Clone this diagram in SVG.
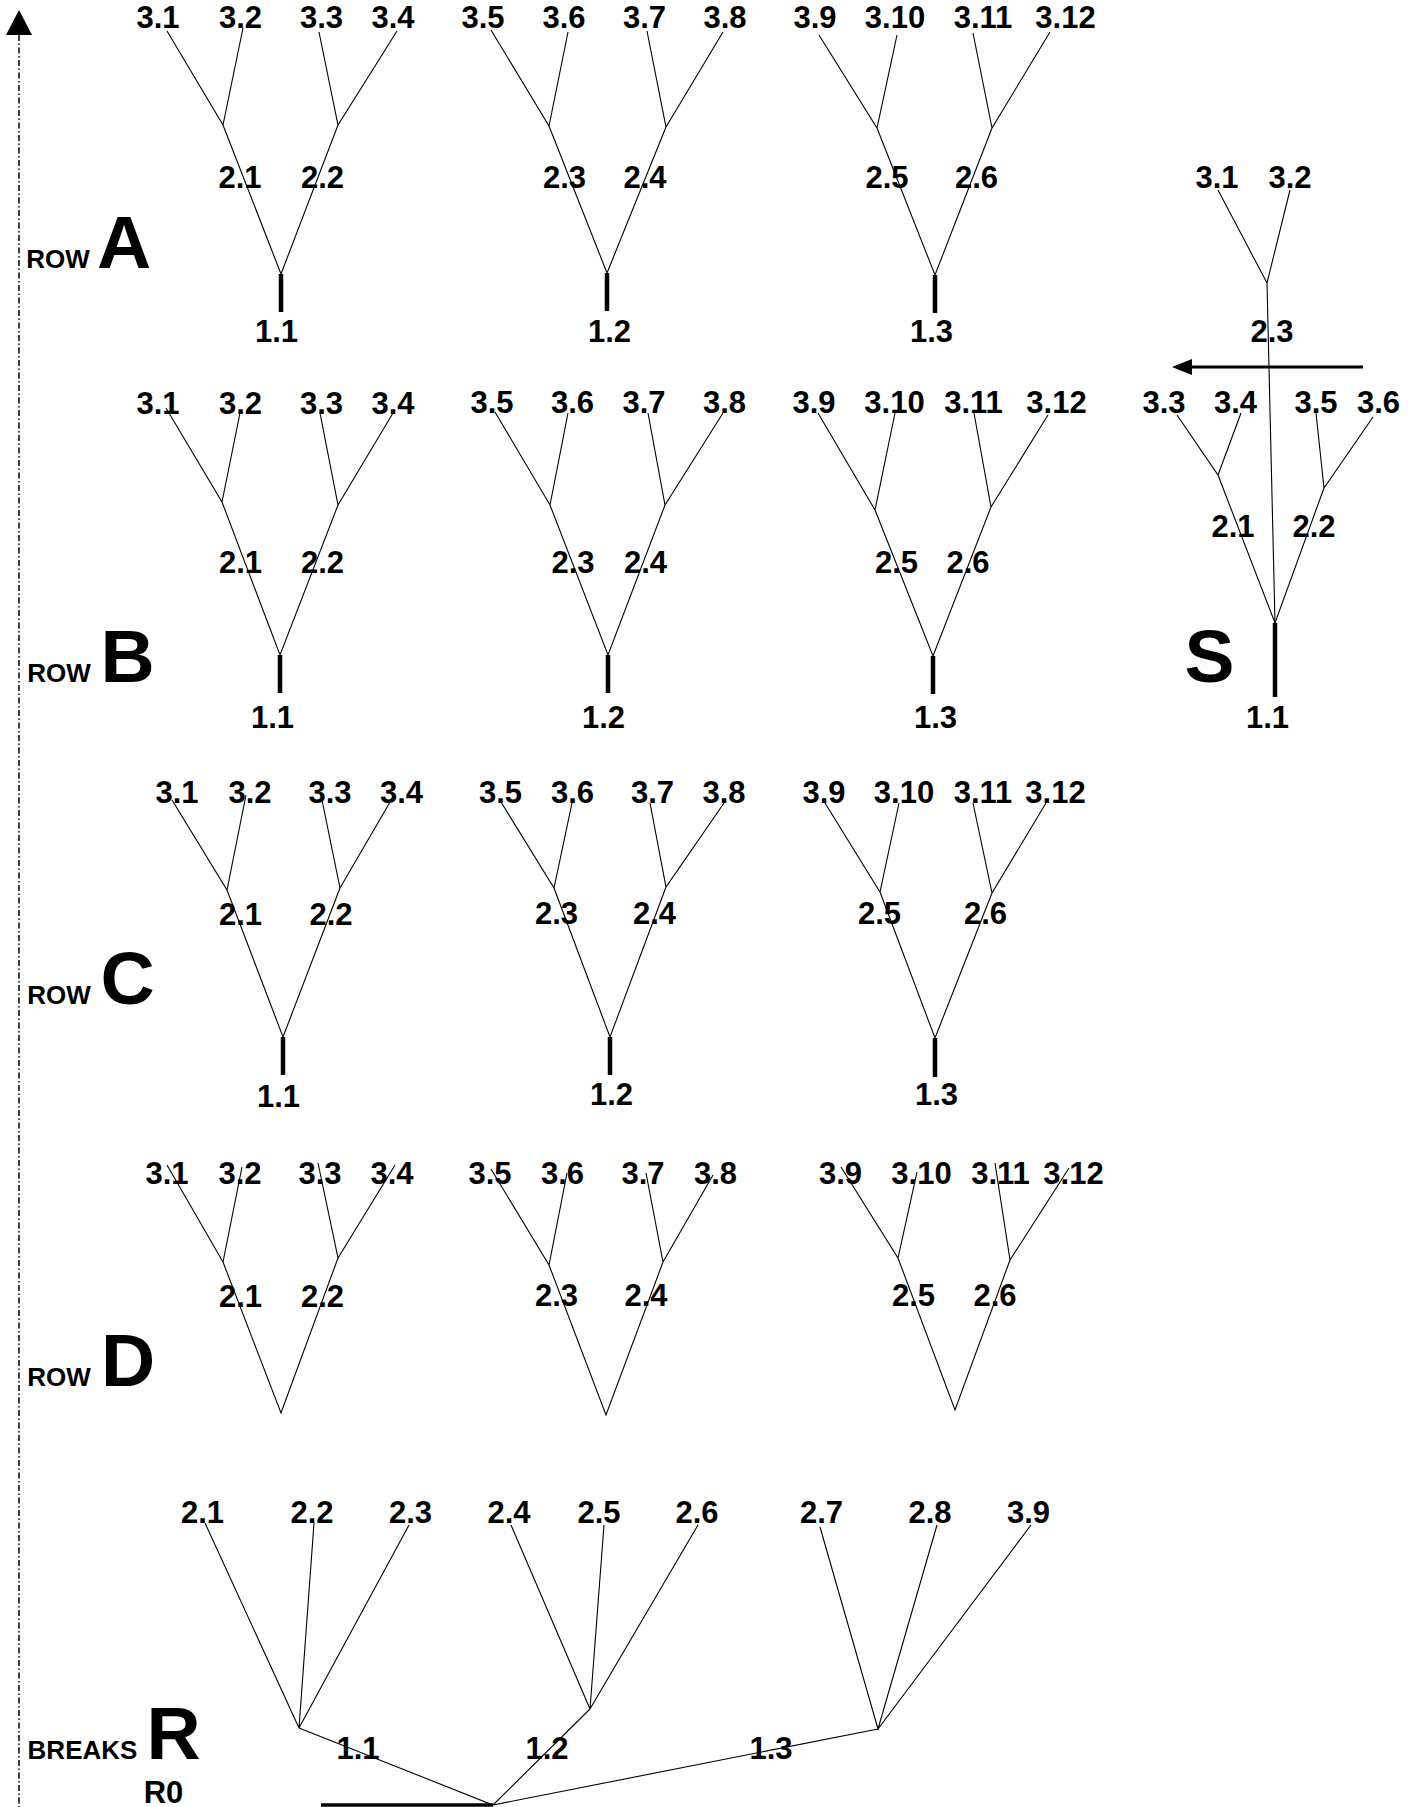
<svg xmlns="http://www.w3.org/2000/svg" width="1423" height="1807" viewBox="0 0 1423 1807">
<style>
text{font-family:"Liberation Sans",Arial,sans-serif;font-weight:bold;fill:#000}
.t{font-size:31px;text-anchor:middle}
.big{font-size:75px;text-anchor:middle}
.row{font-size:26px;text-anchor:middle}
.ln{stroke:#000;stroke-width:1.1;fill:none}
.bar{stroke:#000;stroke-width:4.5;fill:none}
.axis{stroke:#000;stroke-width:1.5;stroke-dasharray:6 2.5 1.5 2.5;fill:none}
</style>
<rect width="1423" height="1807" fill="#fff"/>

<g id="connectors">
<line class="axis" x1="19" y1="35" x2="19" y2="1807"/>
<polygon points="19,10 6,35 32,35" fill="#000"/>
<path class="ln" d="M167,31 L223,125 L243,28 M319,32 L338,125 L397,31 M223,125 L281,274 L338,125"/>
<line class="bar" x1="281" y1="274" x2="281" y2="312"/>
<path class="ln" d="M491,30 L549,126 L568,32 M647,31 L666,127 L723,32 M549,126 L607,273 L666,127"/>
<line class="bar" x1="607" y1="273" x2="607" y2="311"/>
<path class="ln" d="M819,35 L877,128 L897,35 M973,33 L992,128 L1050,32 M877,128 L935,275 L992,128"/>
<line class="bar" x1="935" y1="275" x2="935" y2="313"/>
<path class="ln" d="M1218,190 L1267,283 L1290,190 M1267,283 L1275,623"/>
<path class="ln" d="M1177,415 L1218,475 L1241,413 M1316,413 L1324,488 L1373,417 M1218,475 L1275,623 L1324,488"/>
<line class="bar" x1="1275" y1="623" x2="1275" y2="697"/>
<line x1="1363" y1="367" x2="1190" y2="367" stroke="#000" stroke-width="3"/>
<polygon points="1172,367 1192,359 1192,375" fill="#000"/>
<path class="ln" d="M166,408 L222,502 L240,413 M320,413 L338,505 L393,413 M222,502 L280,655 L338,505"/>
<line class="bar" x1="280" y1="655" x2="280" y2="693"/>
<path class="ln" d="M495,412 L550,505 L568,413 M648,413 L665,505 L723,413 M550,505 L608,655 L665,505"/>
<line class="bar" x1="608" y1="655" x2="608" y2="693"/>
<path class="ln" d="M818,413 L875,510 L895,413 M974,413 L991,507 L1048,415 M875,510 L933,656 L991,507"/>
<line class="bar" x1="933" y1="656" x2="933" y2="694"/>
<path class="ln" d="M172,800 L227,890 L246,795 M322,800 L340,888 L393,797 M227,890 L283,1037 L340,888"/>
<line class="bar" x1="283" y1="1037" x2="283" y2="1075"/>
<path class="ln" d="M501,802 L554,888 L572,803 M650,803 L666,887 L724,803 M554,888 L610,1037 L666,887"/>
<line class="bar" x1="610" y1="1037" x2="610" y2="1075"/>
<path class="ln" d="M825,803 L880,892 L899,803 M973,803 L992,893 L1046,803 M880,892 L935,1038 L992,893"/>
<line class="bar" x1="935" y1="1038" x2="935" y2="1077"/>
<path class="ln" d="M167,1165 L223,1262 L242,1167 M318,1163 L338,1258 L395,1165 M223,1262 L281,1413 L338,1258"/>
<path class="ln" d="M491,1169 L549,1265 L567,1173 M646,1173 L663,1262 L713,1175 M549,1265 L606,1415 L663,1262"/>
<path class="ln" d="M841,1167 L898,1258 L917,1172 M995,1163 L1010,1260 L1069,1168 M898,1258 L955,1410 L1010,1260"/>
<path class="ln" d="M205,1523 L299,1728 L314,1523 M409,1525 L299,1728"/>
<path class="ln" d="M511,1525 L590,1709 L604,1525 M698,1525 L590,1709"/>
<path class="ln" d="M820,1527 L878,1729 L937,1525 M1031,1525 L878,1729"/>
<path class="ln" d="M299,1728 L493,1805 L590,1709 M493,1805 L878,1729"/>
<line x1="321" y1="1805" x2="493" y2="1805" stroke="#000" stroke-width="3.5"/>
</g>

<g id="rowA"><text class="row" x="58" y="268">ROW</text><text class="big" x="124" y="268">A</text></g>
<g id="rowB"><text class="row" x="59" y="682">ROW</text><text class="big" x="127.5" y="682">B</text></g>
<g id="rowC"><text class="row" x="59" y="1004">ROW</text><text class="big" x="127.5" y="1004">C</text></g>
<g id="rowD"><text class="row" x="59" y="1386">ROW</text><text class="big" x="128" y="1386">D</text></g>
<g id="rowR"><text class="row" x="82.5" y="1759">BREAKS</text><text class="big" x="173.5" y="1759">R</text></g>
<g id="rowS"><text class="big" x="1209.5" y="682">S</text></g>
<g id="r0"><text class="t" x="163.5" y="1803">R0</text></g>

<g id="A1">
<g id="A1-3.1"><text class="t" x="158" y="28">3.1</text></g>
<g id="A1-3.2"><text class="t" x="240.5" y="28">3.2</text></g>
<g id="A1-3.3"><text class="t" x="321.5" y="28">3.3</text></g>
<g id="A1-3.4"><text class="t" x="393" y="28">3.4</text></g>
<g id="A1-2.1"><text class="t" x="240" y="188">2.1</text></g>
<g id="A1-2.2"><text class="t" x="322.5" y="188">2.2</text></g>
<g id="A1-1.1"><text class="t" x="276.5" y="342">1.1</text></g>
</g>
<g id="A2">
<g id="A2-3.5"><text class="t" x="483" y="28">3.5</text></g>
<g id="A2-3.6"><text class="t" x="564" y="28">3.6</text></g>
<g id="A2-3.7"><text class="t" x="644.5" y="28">3.7</text></g>
<g id="A2-3.8"><text class="t" x="725" y="28">3.8</text></g>
<g id="A2-2.3"><text class="t" x="564.5" y="188">2.3</text></g>
<g id="A2-2.4"><text class="t" x="645" y="188">2.4</text></g>
<g id="A2-1.2"><text class="t" x="609.5" y="342">1.2</text></g>
</g>
<g id="A3">
<g id="A3-3.9"><text class="t" x="815" y="28">3.9</text></g>
<g id="A3-3.10"><text class="t" x="895" y="28">3.10</text></g>
<g id="A3-3.11"><text class="t" x="983" y="28">3.11</text></g>
<g id="A3-3.12"><text class="t" x="1065.5" y="28">3.12</text></g>
<g id="A3-2.5"><text class="t" x="887" y="188">2.5</text></g>
<g id="A3-2.6"><text class="t" x="976.5" y="188">2.6</text></g>
<g id="A3-1.3"><text class="t" x="931.5" y="342">1.3</text></g>
</g>
<g id="S">
<g id="S-3.1"><text class="t" x="1217" y="188">3.1</text></g>
<g id="S-3.2"><text class="t" x="1290" y="188">3.2</text></g>
<g id="S-2.3"><text class="t" x="1272" y="342">2.3</text></g>
<g id="S-3.3"><text class="t" x="1164" y="413">3.3</text></g>
<g id="S-3.4"><text class="t" x="1235.5" y="413">3.4</text></g>
<g id="S-3.5"><text class="t" x="1316" y="413">3.5</text></g>
<g id="S-3.6"><text class="t" x="1378.5" y="413">3.6</text></g>
<g id="S-2.1"><text class="t" x="1233" y="537">2.1</text></g>
<g id="S-2.2"><text class="t" x="1314" y="537">2.2</text></g>
<g id="S-1.1"><text class="t" x="1267.5" y="728">1.1</text></g>
</g>
<g id="B1">
<g id="B1-3.1"><text class="t" x="158" y="414">3.1</text></g>
<g id="B1-3.2"><text class="t" x="240.5" y="414">3.2</text></g>
<g id="B1-3.3"><text class="t" x="321.5" y="414">3.3</text></g>
<g id="B1-3.4"><text class="t" x="393" y="414">3.4</text></g>
<g id="B1-2.1"><text class="t" x="240.5" y="573">2.1</text></g>
<g id="B1-2.2"><text class="t" x="322.5" y="573">2.2</text></g>
<g id="B1-1.1"><text class="t" x="272.5" y="728">1.1</text></g>
</g>
<g id="B2">
<g id="B2-3.5"><text class="t" x="492" y="413">3.5</text></g>
<g id="B2-3.6"><text class="t" x="572.5" y="413">3.6</text></g>
<g id="B2-3.7"><text class="t" x="644" y="413">3.7</text></g>
<g id="B2-3.8"><text class="t" x="724.5" y="413">3.8</text></g>
<g id="B2-2.3"><text class="t" x="573" y="573">2.3</text></g>
<g id="B2-2.4"><text class="t" x="645.5" y="573">2.4</text></g>
<g id="B2-1.2"><text class="t" x="603.5" y="728">1.2</text></g>
</g>
<g id="B3">
<g id="B3-3.9"><text class="t" x="814" y="413">3.9</text></g>
<g id="B3-3.10"><text class="t" x="894.5" y="413">3.10</text></g>
<g id="B3-3.11"><text class="t" x="973.5" y="413">3.11</text></g>
<g id="B3-3.12"><text class="t" x="1056.5" y="413">3.12</text></g>
<g id="B3-2.5"><text class="t" x="896.5" y="573">2.5</text></g>
<g id="B3-2.6"><text class="t" x="968" y="573">2.6</text></g>
<g id="B3-1.3"><text class="t" x="935.5" y="728">1.3</text></g>
</g>
<g id="C1">
<g id="C1-3.1"><text class="t" x="177" y="803">3.1</text></g>
<g id="C1-3.2"><text class="t" x="250" y="803">3.2</text></g>
<g id="C1-3.3"><text class="t" x="330" y="803">3.3</text></g>
<g id="C1-3.4"><text class="t" x="401.5" y="803">3.4</text></g>
<g id="C1-2.1"><text class="t" x="240.5" y="925">2.1</text></g>
<g id="C1-2.2"><text class="t" x="331" y="925">2.2</text></g>
<g id="C1-1.1"><text class="t" x="278.5" y="1107">1.1</text></g>
</g>
<g id="C2">
<g id="C2-3.5"><text class="t" x="500.5" y="803">3.5</text></g>
<g id="C2-3.6"><text class="t" x="572.5" y="803">3.6</text></g>
<g id="C2-3.7"><text class="t" x="652.5" y="803">3.7</text></g>
<g id="C2-3.8"><text class="t" x="724" y="803">3.8</text></g>
<g id="C2-2.3"><text class="t" x="556.5" y="924">2.3</text></g>
<g id="C2-2.4"><text class="t" x="654.5" y="924">2.4</text></g>
<g id="C2-1.2"><text class="t" x="611.5" y="1105">1.2</text></g>
</g>
<g id="C3">
<g id="C3-3.9"><text class="t" x="824" y="803">3.9</text></g>
<g id="C3-3.10"><text class="t" x="904" y="803">3.10</text></g>
<g id="C3-3.11"><text class="t" x="983" y="803">3.11</text></g>
<g id="C3-3.12"><text class="t" x="1055.5" y="803">3.12</text></g>
<g id="C3-2.5"><text class="t" x="879.5" y="924">2.5</text></g>
<g id="C3-2.6"><text class="t" x="985.5" y="924">2.6</text></g>
<g id="C3-1.3"><text class="t" x="936.5" y="1105">1.3</text></g>
</g>
<g id="D1">
<g id="D1-3.1"><text class="t" x="167" y="1184">3.1</text></g>
<g id="D1-3.2"><text class="t" x="240" y="1184">3.2</text></g>
<g id="D1-3.3"><text class="t" x="320" y="1184">3.3</text></g>
<g id="D1-3.4"><text class="t" x="392" y="1184">3.4</text></g>
<g id="D1-2.1"><text class="t" x="240.5" y="1307">2.1</text></g>
<g id="D1-2.2"><text class="t" x="322.5" y="1307">2.2</text></g>
</g>
<g id="D2">
<g id="D2-3.5"><text class="t" x="490" y="1184">3.5</text></g>
<g id="D2-3.6"><text class="t" x="562.5" y="1184">3.6</text></g>
<g id="D2-3.7"><text class="t" x="643" y="1184">3.7</text></g>
<g id="D2-3.8"><text class="t" x="715.5" y="1184">3.8</text></g>
<g id="D2-2.3"><text class="t" x="556.5" y="1306">2.3</text></g>
<g id="D2-2.4"><text class="t" x="646" y="1306">2.4</text></g>
</g>
<g id="D3">
<g id="D3-3.9"><text class="t" x="840.5" y="1184">3.9</text></g>
<g id="D3-3.10"><text class="t" x="921.5" y="1184">3.10</text></g>
<g id="D3-3.11"><text class="t" x="1000.5" y="1184">3.11</text></g>
<g id="D3-3.12"><text class="t" x="1073.5" y="1184">3.12</text></g>
<g id="D3-2.5"><text class="t" x="913.5" y="1306">2.5</text></g>
<g id="D3-2.6"><text class="t" x="995" y="1306">2.6</text></g>
</g>
<g id="R">
<g id="R-2.1"><text class="t" x="202.5" y="1523">2.1</text></g>
<g id="R-2.2"><text class="t" x="312" y="1523">2.2</text></g>
<g id="R-2.3"><text class="t" x="410.5" y="1523">2.3</text></g>
<g id="R-2.4"><text class="t" x="509" y="1523">2.4</text></g>
<g id="R-2.5"><text class="t" x="599" y="1523">2.5</text></g>
<g id="R-2.6"><text class="t" x="697" y="1523">2.6</text></g>
<g id="R-2.7"><text class="t" x="821.5" y="1523">2.7</text></g>
<g id="R-2.8"><text class="t" x="930" y="1523">2.8</text></g>
<g id="R-3.9"><text class="t" x="1028.5" y="1523">3.9</text></g>
<g id="R-1.1"><text class="t" x="358" y="1759">1.1</text></g>
<g id="R-1.2"><text class="t" x="547" y="1759">1.2</text></g>
<g id="R-1.3"><text class="t" x="771" y="1759">1.3</text></g>
</g>
</svg>
